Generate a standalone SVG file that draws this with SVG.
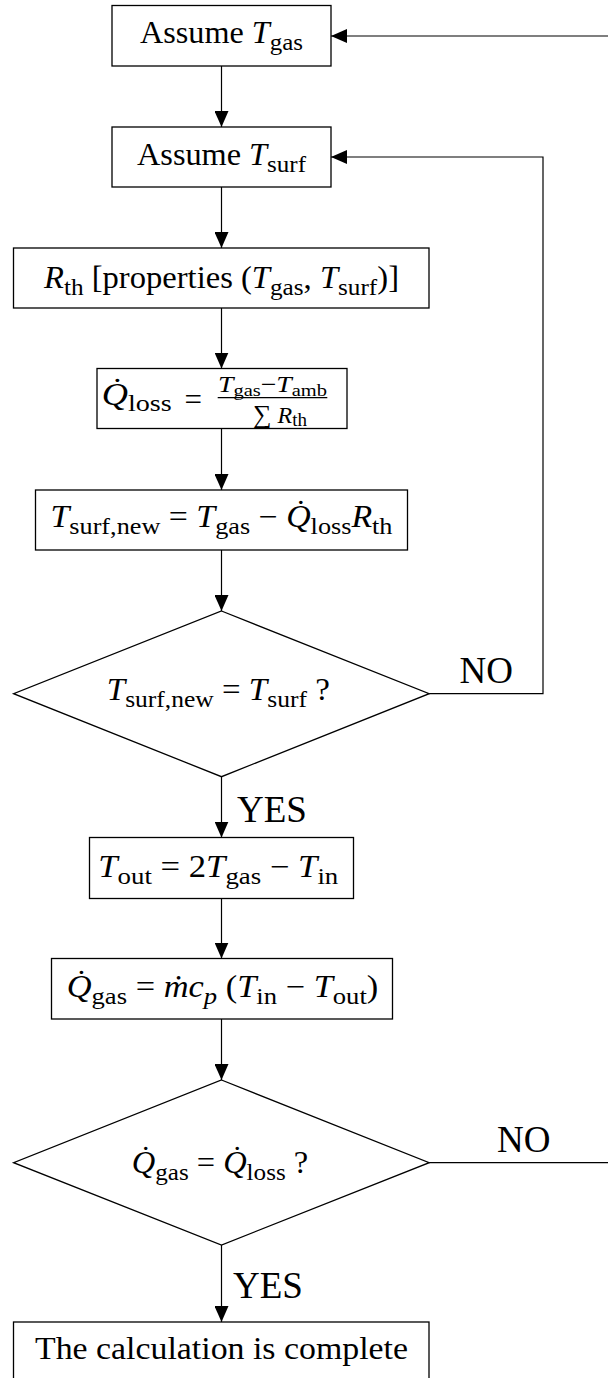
<svg xmlns="http://www.w3.org/2000/svg" width="608" height="1378" viewBox="0 0 608 1378">
<defs>
<style>
.box{fill:#fff;stroke:#000;stroke-width:1.3}
.ln{fill:none;stroke:#000;stroke-width:1.2}
text{font-family:"Liberation Serif","Times New Roman",serif;font-size:31px;fill:#000}
.c{text-anchor:middle}
.i{font-style:italic}
.s{font-size:24px}
.f{font-size:23px}
.fs{font-size:17px}
.lab{font-size:37px}
</style>
<marker id="arr" markerWidth="16" markerHeight="14" refX="16" refY="7" orient="auto" markerUnits="userSpaceOnUse">
<path d="M0,0 L16,7 L0,14 z" fill="#000"/>
</marker>
</defs>
<rect width="608" height="1378" fill="#fff"/>
<g id="connectors">
<path class="ln" d="M221.5,66 V127" marker-end="url(#arr)"/>
<path class="ln" d="M221.5,187 V248" marker-end="url(#arr)"/>
<path class="ln" d="M221.5,308 V368.5" marker-end="url(#arr)"/>
<path class="ln" d="M221.5,428.5 V490" marker-end="url(#arr)"/>
<path class="ln" d="M221.5,550 V611" marker-end="url(#arr)"/>
<path class="ln" d="M221.5,776.7 V837.5" marker-end="url(#arr)"/>
<path class="ln" d="M221.5,898.5 V958.5" marker-end="url(#arr)"/>
<path class="ln" d="M221.5,1019 V1080" marker-end="url(#arr)"/>
<path class="ln" d="M221.5,1245 V1322" marker-end="url(#arr)"/>
<path class="ln" d="M429.2,693.7 H543 V157 H331" marker-end="url(#arr)"/>
<path class="ln" d="M429.2,1162.7 H640 V36 H331" marker-end="url(#arr)"/>
<text class="lab" x="459.5" y="683.3">NO</text>
<text class="lab" x="497" y="1151.7">NO</text>
<text class="lab" x="237" y="821.7">YES</text>
<text class="lab" x="233" y="1297.7">YES</text>
</g>
<g id="n1">
<rect class="box" x="112" y="5.5" width="219" height="60.5"/>
<text class="c" x="221.5" y="43" textLength="163" lengthAdjust="spacingAndGlyphs">Assume <tspan class="i">T</tspan><tspan class="s" dy="7">gas</tspan></text>
</g>
<g id="n2">
<rect class="box" x="112" y="127" width="219" height="60"/>
<text class="c" x="221.5" y="165" textLength="169" lengthAdjust="spacingAndGlyphs">Assume <tspan class="i">T</tspan><tspan class="s" dy="7">surf</tspan></text>
</g>
<g id="n3">
<rect class="box" x="13.5" y="248" width="415.5" height="60"/>
<text class="c" x="221.5" y="288" textLength="355" lengthAdjust="spacingAndGlyphs"><tspan class="i">R</tspan><tspan class="s" dy="7">th</tspan><tspan dy="-7"> [properties (</tspan><tspan class="i">T</tspan><tspan class="s" dy="7">gas</tspan><tspan dy="-7">, </tspan><tspan class="i">T</tspan><tspan class="s" dy="7">surf</tspan><tspan dy="-7">)]</tspan></text>
</g>
<g id="n4">
<rect class="box" x="97" y="368.5" width="250" height="60"/>
<text x="101.7" y="405" textLength="70" lengthAdjust="spacingAndGlyphs"><tspan class="i">Q&#x307;</tspan><tspan class="s" dy="6">loss</tspan></text>
<text class="c" x="193.3" y="410">=</text>
<text class="c f" x="272.5" y="391.5" textLength="109" lengthAdjust="spacingAndGlyphs"><tspan class="i">T</tspan><tspan class="fs" dy="4">gas</tspan><tspan dy="-4">−</tspan><tspan class="i">T</tspan><tspan class="fs" dy="4">amb</tspan></text>
<line class="ln" x1="217.7" y1="397.7" x2="327.3" y2="397.7"/>
<text class="c" x="280" y="423" style="font-size:24px"><tspan style="font-size:26px">∑</tspan> <tspan class="i">R</tspan><tspan style="font-size:19px" dy="3">th</tspan></text>
</g>
<g id="n5">
<rect class="box" x="35.5" y="490" width="372" height="60"/>
<text class="c" x="221.5" y="527" textLength="342" lengthAdjust="spacingAndGlyphs"><tspan class="i">T</tspan><tspan class="s" dy="7">surf,new</tspan><tspan dy="-7"> = </tspan><tspan class="i">T</tspan><tspan class="s" dy="7">gas</tspan><tspan dy="-7"> − </tspan><tspan class="i">Q&#x307;</tspan><tspan class="s" dy="7">loss</tspan><tspan class="i" dy="-7">R</tspan><tspan class="s" dy="7">th</tspan></text>
</g>
<g id="d1">
<polygon class="box" points="221.5,611 429.2,693.7 221.5,776.7 13.6,693.7"/>
<text class="c" x="218.3" y="699.5" textLength="223" lengthAdjust="spacingAndGlyphs"><tspan class="i">T</tspan><tspan class="s" dy="7">surf,new</tspan><tspan dy="-7"> = </tspan><tspan class="i">T</tspan><tspan class="s" dy="7">surf</tspan><tspan dy="-7"> ?</tspan></text>
</g>
<g id="n6">
<rect class="box" x="89.5" y="837.5" width="264" height="61"/>
<text class="c" x="218.3" y="877" textLength="240" lengthAdjust="spacingAndGlyphs"><tspan class="i">T</tspan><tspan class="s" dy="7">out</tspan><tspan dy="-7"> = 2</tspan><tspan class="i">T</tspan><tspan class="s" dy="7">gas</tspan><tspan dy="-7"> − </tspan><tspan class="i">T</tspan><tspan class="s" dy="7">in</tspan></text>
</g>
<g id="n7">
<rect class="box" x="51.5" y="958.5" width="341" height="60.5"/>
<text class="c" x="222.5" y="997" textLength="311.6" lengthAdjust="spacingAndGlyphs"><tspan class="i">Q&#x307;</tspan><tspan class="s" dy="7">gas</tspan><tspan dy="-7"> = </tspan><tspan class="i">ṁc</tspan><tspan class="s i" dy="7">p</tspan><tspan dy="-7"> (</tspan><tspan class="i">T</tspan><tspan class="s" dy="7">in</tspan><tspan dy="-7"> − </tspan><tspan class="i">T</tspan><tspan class="s" dy="7">out</tspan><tspan dy="-7">)</tspan></text>
</g>
<g id="d2">
<polygon class="box" points="221.5,1080 429.2,1162.7 221.5,1245 13.6,1162.7"/>
<text class="c" x="220" y="1173" textLength="176.5" lengthAdjust="spacingAndGlyphs"><tspan class="i">Q&#x307;</tspan><tspan class="s" dy="7">gas</tspan><tspan dy="-7"> = </tspan><tspan class="i">Q&#x307;</tspan><tspan class="s" dy="7">loss</tspan><tspan dy="-7"> ?</tspan></text>
</g>
<g id="n8">
<rect class="box" x="13.5" y="1322" width="415.5" height="61"/>
<text class="c" x="221.5" y="1359" textLength="373" lengthAdjust="spacingAndGlyphs">The calculation is complete</text>
</g>
</svg>
